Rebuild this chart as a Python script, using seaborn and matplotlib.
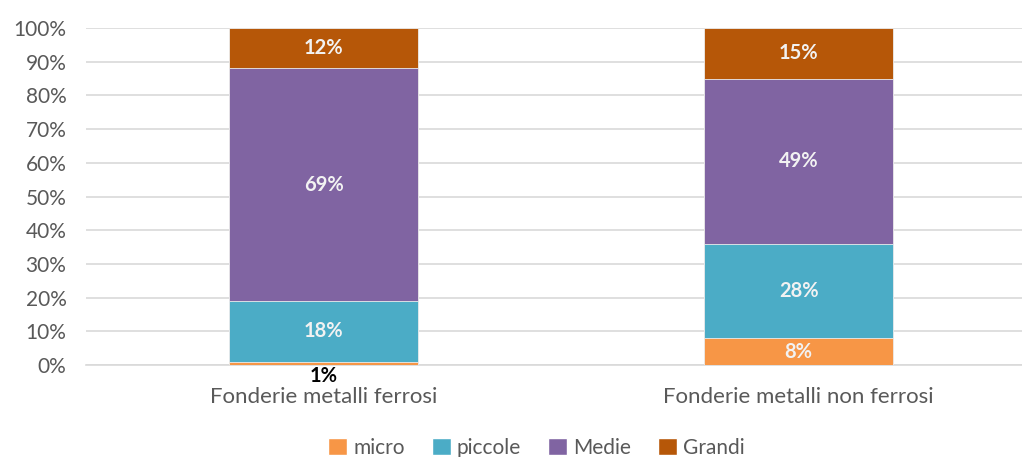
import numpy as np
import pandas as pd
import seaborn as sns
import matplotlib.pyplot as plt
from matplotlib.patches import Patch

# Values (percent of firms by size class)
categories = ["Fonderie metalli ferrosi", "Fonderie metalli non ferrosi"]
series = ["micro", "piccole", "Medie", "Grandi"]
micro = [1, 8]
piccole = [18, 28]
medie = [69, 49]
grandi = [12, 15]
y_ticks = [0, 10, 20, 30, 40, 50, 60, 70, 80, 90, 100]

colors = {
    "micro": "#F79646",
    "piccole": "#4BACC6",
    "Medie": "#8064A2",
    "Grandi": "#B65708",
}

df = pd.DataFrame({"categoria": categories, "micro": micro, "piccole": piccole,
                   "Medie": medie, "Grandi": grandi})
cum = df[series].cumsum(axis=1)

sns.set_style("white")
plt.rcParams["font.family"] = ["Lato", "DejaVu Sans"]

fig = plt.figure(figsize=(10.22, 4.57), dpi=100)
ax = fig.add_axes([0.0841, 0.2013, 0.9159, 0.7374])

# Stacked bars: draw cumulative totals from the top series down
for s in reversed(series):
    sns.barplot(x=df["categoria"], y=cum[s], color=colors[s], width=0.398,
                saturation=1, edgecolor="#EDEDED", linewidth=0.6, ax=ax, zorder=3)

# Data labels
for i in range(len(categories)):
    for s in series:
        val = df.loc[i, s]
        mid = cum.loc[i, s] - val / 2
        if val < 3:
            ax.text(i, -3.3, f"{val}%", ha="center", va="center", fontsize=14.5,
                    fontweight="bold", color="black", zorder=5)
        else:
            ax.text(i, mid, f"{val}%", ha="center", va="center", fontsize=14.5,
                    fontweight="bold", color="#F2F2F2", zorder=5)

ax.set_ylim(0, 100)
ax.set_xlim(-0.5, 1.47)
ax.set_yticks(y_ticks)
ax.set_yticklabels([f"{t}%" for t in y_ticks])
ax.yaxis.grid(True, color="#D9D9D9", linewidth=1.2, zorder=0)
ax.set_axisbelow(True)
for sp in ["top", "right", "left"]:
    ax.spines[sp].set_visible(False)
ax.spines["bottom"].set_color("#D9D9D9")
ax.spines["bottom"].set_linewidth(1.2)
ax.tick_params(axis="y", length=0, labelsize=15, colors="#595959", pad=14)
ax.tick_params(axis="x", length=0, labelsize=16, colors="#595959", pad=16)
ax.set_xlabel("")
ax.set_ylabel("")

handles = [Patch(facecolor=colors[s], label=s) for s in series]
fig.legend(handles=handles, loc="center", bbox_to_anchor=(0.525, 0.02), ncol=4,
           frameon=False, fontsize=15, handlelength=0.9, handleheight=0.9,
           handletextpad=0.3, columnspacing=1.3, labelcolor="#595959",
           borderpad=0)

plt.savefig("out.png", dpi=100)
plt.close()
